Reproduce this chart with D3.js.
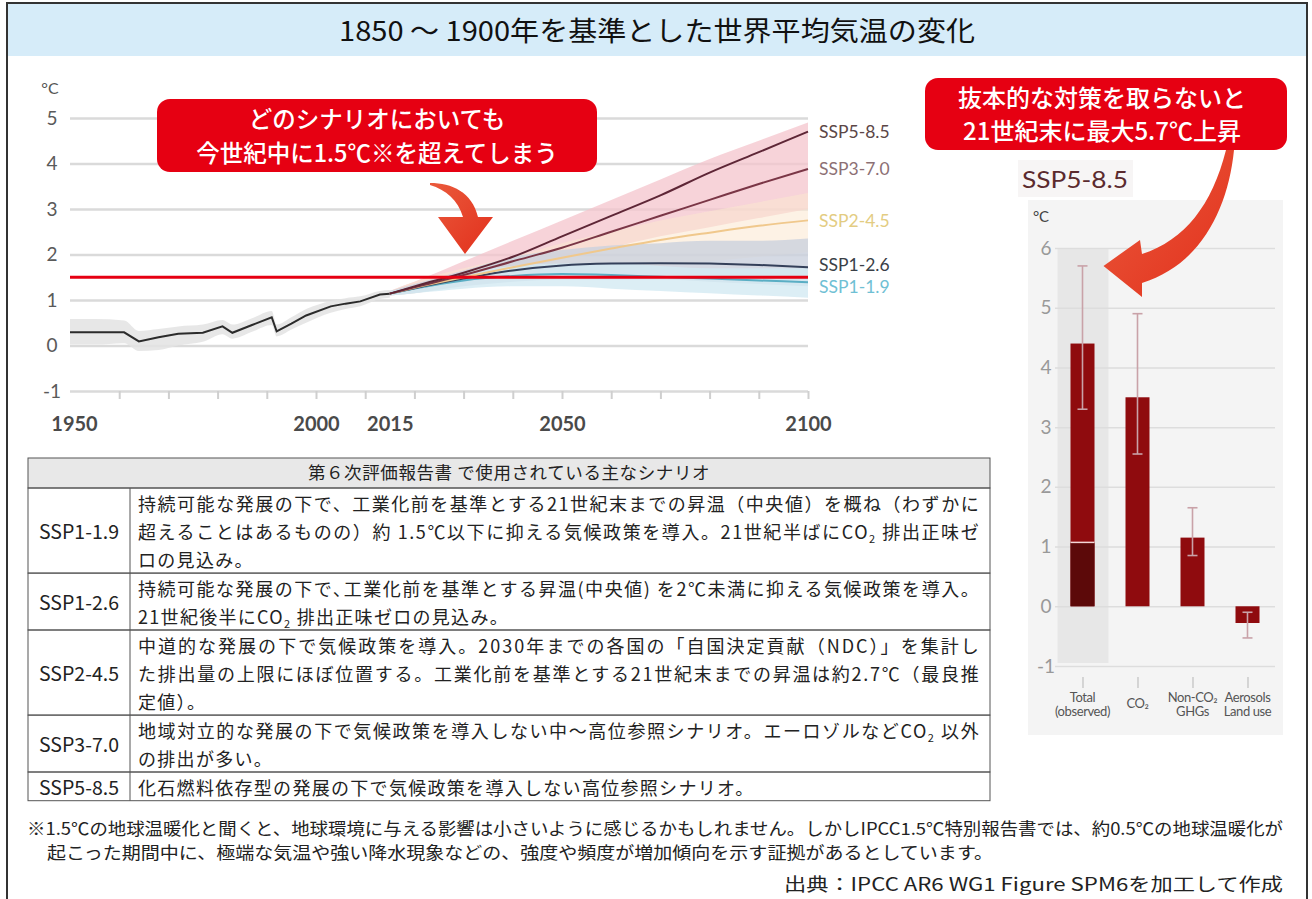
<!DOCTYPE html>
<html>
<head>
<meta charset="utf-8">
<script src="https://cdn.jsdelivr.net/npm/d3@7"></script>
<style>
  body { margin: 0; background: #fff; }
  svg { display: block; }
</style>
</head>
<body>
<svg id="fig" width="1312" height="899"></svg>
<script>
// ---- data: left chart (global mean temperature change vs 1850-1900, °C) ----
const histYears = [1950, 1955, 1961, 1964, 1968, 1972, 1977, 1981, 1983, 1987, 1991, 1992, 1995, 1998, 2003, 2006, 2009, 2013, 2015];
const histTemp  = [0.29, 0.29, 0.29, 0.09, 0.18, 0.26, 0.28, 0.42, 0.28, 0.45, 0.62, 0.31, 0.48, 0.66, 0.86, 0.92, 0.97, 1.12, 1.14];
const histLow   = [0.02, 0.02, 0.05, -0.12, -0.1, 0.0, 0.08, 0.25, 0.15, 0.3, 0.45, 0.2, 0.35, 0.5, 0.72, 0.8, 0.86, 1.02, 1.05];
const histHigh  = [0.58, 0.58, 0.55, 0.32, 0.36, 0.42, 0.46, 0.56, 0.46, 0.6, 0.76, 0.46, 0.62, 0.8, 0.98, 1.04, 1.08, 1.2, 1.22];

const projYears = [2015, 2020, 2030, 2040, 2050, 2060, 2070, 2080, 2090, 2100];
const ssp585 = [1.14, 1.3, 1.6, 1.95, 2.4, 2.85, 3.3, 3.8, 4.25, 4.7];
const ssp370 = [1.14, 1.28, 1.55, 1.85, 2.15, 2.5, 2.85, 3.2, 3.55, 3.88];
const ssp245 = [1.14, 1.27, 1.5, 1.72, 1.93, 2.13, 2.32, 2.48, 2.63, 2.75];
const ssp126 = [1.14, 1.26, 1.47, 1.65, 1.76, 1.8, 1.81, 1.8, 1.77, 1.72];
const ssp119 = [1.14, 1.25, 1.43, 1.53, 1.57, 1.55, 1.51, 1.47, 1.43, 1.39];

const bandHighLo  = [1.1, 1.2, 1.4, 1.65, 1.9, 2.15, 2.4, 2.6, 2.8, 3.0];
const bandHighHi  = [1.2, 1.4, 1.85, 2.3, 2.75, 3.2, 3.65, 4.1, 4.5, 4.9];
const band245Lo   = [1.1, 1.15, 1.3, 1.45, 1.55, 1.65, 1.75, 1.85, 1.95, 2.05];
const band245Hi   = [1.2, 1.4, 1.7, 1.95, 2.25, 2.5, 2.75, 2.95, 3.15, 3.35];
const band126Lo   = [1.1, 1.15, 1.3, 1.4, 1.45, 1.45, 1.45, 1.4, 1.35, 1.3];
const band126Hi   = [1.2, 1.35, 1.65, 1.95, 2.1, 2.2, 2.25, 2.3, 2.3, 2.35];
const band119Lo   = [1.1, 1.15, 1.25, 1.3, 1.3, 1.25, 1.2, 1.15, 1.1, 1.05];
const band119Hi   = [1.2, 1.3, 1.6, 1.75, 1.8, 1.8, 1.75, 1.7, 1.7, 1.7];

const scenarioNames = ["SSP5-8.5", "SSP3-7.0", "SSP2-4.5", "SSP1-2.6", "SSP1-1.9"];
const yTicks = [-1, 0, 1, 2, 3, 4, 5];
const xLabelYears = [1950, 2000, 2015, 2050, 2100];
const limitLine = 1.5;

// ---- data: right chart (SSP5-8.5 contributions by 2100) ----
const barCats   = ["Total (observed)", "CO2", "Non-CO2 GHGs", "Aerosols Land use"];
const barValues = [4.4, 3.5, 1.15, -0.28];
const barLow    = [3.3, 2.55, 0.85, -0.53];
const barHigh   = [5.7, 4.9, 1.65, -0.1];
const observedPart = 1.07;
const barTicks = [-1, 0, 1, 2, 3, 4, 5, 6];

// ---- text ----
const titleText = "1850 ～ 1900年を基準とした世界平均気温の変化";
const callout1 = ["どのシナリオにおいても", "今世紀中に1.5℃※を超えてしまう"];
const callout2 = ["抜本的な対策を取らないと", "21世紀末に最大5.7℃上昇"];
const tableHeader = "第６次評価報告書 で使用されている主なシナリオ";
const tableRows = ["SSP1-1.9", "SSP1-2.6", "SSP2-4.5", "SSP3-7.0", "SSP5-8.5"];
const tableText = [
  ["持続可能な発展の下で、工業化前を基準とする21世紀末までの昇温（中央値）を概ね（わずかに",
   "超えることはあるものの）約 1.5℃以下に抑える気候政策を導入。21世紀半ばにCO_2排出正味ゼ",
   "ロの見込み。"],
  ["持続可能な発展の下で､工業化前を基準とする昇温(中央値) を2℃未満に抑える気候政策を導入。",
   "21世紀後半にCO_2排出正味ゼロの見込み。"],
  ["中道的な発展の下で気候政策を導入。2030年までの各国の「自国決定貢献（NDC）」を集計し",
   "た排出量の上限にほぼ位置する。工業化前を基準とする21世紀末までの昇温は約2.7℃（最良推",
   "定値）。"],
  ["地域対立的な発展の下で気候政策を導入しない中～高位参照シナリオ。エーロゾルなどCO_2以外",
   "の排出が多い。"],
  ["化石燃料依存型の発展の下で気候政策を導入しない高位参照シナリオ。"]
];
const footnote = [
  "※1.5℃の地球温暖化と聞くと、地球環境に与える影響は小さいように感じるかもしれません。しかしIPCC1.5℃特別報告書では、約0.5℃の地球温暖化が",
  "起こった期間中に、極端な気温や強い降水現象などの、強度や頻度が増加傾向を示す証拠があるとしています。"
];
const sourceText = "出典：IPCC AR6 WG1 Figure SPM6を加工して作成";

// ---- styles ----
const JP = "'Noto Sans CJK JP', 'Noto Sans', sans-serif";
const NUM = "Lato, 'Noto Sans', sans-serif";
const RED = "#e60012";
const lineColor  = { "SSP5-8.5": "#5e2636", "SSP3-7.0": "#7a3646", "SSP2-4.5": "#f0c88c", "SSP1-2.6": "#34405a", "SSP1-1.9": "#5aaec4" };
const labelColor = { "SSP5-8.5": "#5b4646", "SSP3-7.0": "#8c7074", "SSP2-4.5": "#e3cc82", "SSP1-2.6": "#3a3f47", "SSP1-1.9": "#6fc0d4" };
const seriesByName = { "SSP5-8.5": ssp585, "SSP3-7.0": ssp370, "SSP2-4.5": ssp245, "SSP1-2.6": ssp126, "SSP1-1.9": ssp119 };

const svg = d3.select("#fig");
const defs = svg.append("defs");
const grad = defs.append("linearGradient").attr("id", "arrowGrad")
  .attr("x1", "0").attr("y1", "0").attr("x2", "1").attr("y2", "1");
grad.append("stop").attr("offset", "0%").attr("stop-color", "#ea5a3c");
grad.append("stop").attr("offset", "100%").attr("stop-color", "#e2301c");

// frame + title
svg.append("rect").attr("x", 8).attr("y", 4).attr("width", 1299).attr("height", 52).attr("fill", "#d6ecf9");
svg.append("path").attr("d", "M7,905 V3 H1307 V905").attr("fill", "none").attr("stroke", "#333").attr("stroke-width", 2);
svg.append("text").attr("x", 339).attr("y", 41).attr("textLength", 636).attr("lengthAdjust", "spacingAndGlyphs")
  .attr("font-family", JP).attr("font-size", 27).attr("fill", "#111").text(titleText);

// ================= left chart =================
const x = d3.scaleLinear().domain([1950, 2100]).range([70, 808]);
const y = d3.scaleLinear().domain([-1, 5]).range([391, 118]);

const gy = svg.append("g").attr("transform", `translate(${x(1950)},0)`)
  .call(d3.axisLeft(y).tickValues(yTicks).tickSize(-(x(2100) - x(1950))).tickFormat(d => d));
gy.select(".domain").remove();
gy.selectAll(".tick line").attr("stroke", "#dadada").attr("stroke-width", 2.5);
gy.selectAll(".tick text").attr("x", -18).attr("text-anchor", "middle")
  .attr("font-family", NUM).attr("font-size", 19).attr("fill", "#5a5a5a");

svg.append("text").attr("x", 50).attr("y", 94).attr("text-anchor", "middle")
  .attr("font-family", NUM).attr("font-size", 16).attr("fill", "#555").text("°C");

// decade tick marks
const gt = svg.append("g").attr("transform", `translate(0,${y(-1)})`)
  .call(d3.axisBottom(x).tickValues(d3.range(1960, 2101, 10)).tickSize(8).tickFormat(""));
gt.select(".domain").remove();
gt.selectAll(".tick line").attr("stroke", "#cfcfcf").attr("stroke-width", 2);

const gx = svg.append("g").attr("transform", `translate(0,${y(-1)})`)
  .call(d3.axisBottom(x).tickValues(xLabelYears).tickSize(0).tickPadding(26).tickFormat(d => d));
gx.select(".domain").remove();
gx.selectAll(".tick text").attr("font-family", NUM).attr("font-size", 20).attr("font-weight", "bold").attr("fill", "#4a4a4a")
  .attr("dx", d => d === 1950 ? 4 : 0);

// historical band + line
const hist = histYears.map((yr, i) => ({ yr, v: histTemp[i], lo: histLow[i], hi: histHigh[i] }));
svg.append("path").datum(hist)
  .attr("d", d3.area().x(d => x(d.yr)).y0(d => y(d.lo)).y1(d => y(d.hi)).curve(d3.curveMonotoneX))
  .attr("fill", "#e3e3e3").attr("opacity", 0.85);

// projection bands
const bandDefs = [
  [bandHighLo, bandHighHi, "#f4c4cc", 0.75],
  [band245Lo, band245Hi, "#fbe8cf", 0.55],
  [band126Lo, band126Hi, "#cad1dd", 0.8],
  [band119Lo, band119Hi, "#d3eaf2", 0.8]
];
bandDefs.forEach(([lo, hi, col, op]) => {
  const rows = projYears.map((yr, i) => ({ yr, lo: lo[i], hi: hi[i] }));
  svg.append("path").datum(rows)
    .attr("d", d3.area().x(d => x(d.yr)).y0(d => y(d.lo)).y1(d => y(d.hi)).curve(d3.curveMonotoneX))
    .attr("fill", col).attr("opacity", op);
});

svg.append("path").datum(hist)
  .attr("d", d3.line().x(d => x(d.yr)).y(d => y(d.v)))
  .attr("fill", "none").attr("stroke", "#2b2b2b").attr("stroke-width", 2);

// projection lines, drawn bottom-up
scenarioNames.slice().reverse().forEach(name => {
  const rows = projYears.map((yr, i) => ({ yr, v: seriesByName[name][i] }));
  svg.append("path").datum(rows)
    .attr("d", d3.line().x(d => x(d.yr)).y(d => y(d.v)).curve(d3.curveMonotoneX))
    .attr("fill", "none").attr("stroke", lineColor[name]).attr("stroke-width", 2);
});

// scenario labels at the right end
const nudge = { "SSP1-2.6": -2, "SSP1-1.9": 5 };
scenarioNames.forEach(name => {
  const s = seriesByName[name];
  svg.append("text").attr("x", x(2100) + 11).attr("y", y(s[s.length - 1]) + (nudge[name] || 0))
    .attr("dy", "0.35em").attr("font-family", NUM).attr("font-size", 17.5)
    .attr("fill", labelColor[name]).text(name);
});

// 1.5°C line
svg.append("line").attr("x1", x(1950)).attr("x2", x(2100)).attr("y1", y(limitLine)).attr("y2", y(limitLine))
  .attr("stroke", RED).attr("stroke-width", 3);

// callout 1
svg.append("rect").attr("x", 157).attr("y", 99).attr("width", 440).attr("height", 73).attr("rx", 13).attr("fill", RED);
callout1.forEach((t, i) => {
  svg.append("text").attr("x", 377).attr("y", 128 + i * 34).attr("text-anchor", "middle")
    .attr("font-family", JP).attr("font-size", 23.5).attr("font-weight", 500).attr("fill", "#fff").text(t);
});
svg.append("path")
  .attr("d", "M430,183 C452,183 472,192 478,217 L493,217 L465,254 L438,217 L463,217 C458,200 446,190 430,185 Z")
  .attr("fill", "url(#arrowGrad)");

// ================= right chart =================
const xb = d3.scalePoint().domain(barCats).range([1055, 1275]).padding(0.5);
const yb = d3.scaleLinear().domain([-1, 6]).range([666, 248]);

svg.append("rect").attr("x", 1018).attr("y", 160).attr("width", 115).attr("height", 37).attr("fill", "#f7f5f5");
svg.append("text").attr("x", 1022).attr("y", 188).attr("textLength", 106).attr("lengthAdjust", "spacingAndGlyphs")
  .attr("font-family", NUM).attr("font-size", 23).attr("fill", "#5b2a2e").text("SSP5-8.5");
svg.append("rect").attr("x", 1028).attr("y", 200).attr("width", 255).attr("height", 535).attr("fill", "#f4f4f4");
svg.append("rect").attr("x", xb(barCats[0]) - 25).attr("y", yb(6)).attr("width", 51).attr("height", yb(-1) - yb(6) - 3)
  .attr("fill", "#e7e7e7");
svg.append("text").attr("x", 1041).attr("y", 222).attr("text-anchor", "middle")
  .attr("font-family", NUM).attr("font-size", 15).attr("fill", "#444").text("°C");

const gby = svg.append("g").attr("transform", "translate(1055,0)")
  .call(d3.axisLeft(yb).tickValues(barTicks).tickSize(-220).tickFormat(d => d));
gby.select(".domain").remove();
gby.selectAll(".tick line").attr("stroke", "#dddddd").attr("stroke-width", 1.5);
gby.selectAll(".tick text").attr("x", -9).attr("text-anchor", "middle")
  .attr("font-family", NUM).attr("font-size", 19).attr("fill", "#999");

const gbx = svg.append("g").attr("transform", "translate(0,677)")
  .call(d3.axisBottom(xb).tickSize(11).tickFormat(""));
gbx.select(".domain").remove();
gbx.selectAll(".tick line").attr("stroke", "#b5b5b5").attr("stroke-width", 1);

// bars
const bw = 24;
barCats.forEach((c, i) => {
  const v = barValues[i];
  svg.append("rect").attr("x", xb(c) - bw / 2).attr("width", bw)
    .attr("y", yb(Math.max(0, v))).attr("height", Math.abs(yb(v) - yb(0)))
    .attr("fill", "#8f0b0e");
});
// observed part of the total
svg.append("rect").attr("x", xb(barCats[0]) - bw / 2).attr("width", bw)
  .attr("y", yb(observedPart)).attr("height", yb(0) - yb(observedPart)).attr("fill", "#5c0909");
svg.append("line").attr("x1", xb(barCats[0]) - bw / 2).attr("x2", xb(barCats[0]) + bw / 2)
  .attr("y1", yb(observedPart)).attr("y2", yb(observedPart)).attr("stroke", "#f3d6d6").attr("stroke-width", 1.5);

// error bars
barCats.forEach((c, i) => {
  const g = svg.append("g").attr("stroke", "#c9a2a8").attr("stroke-width", 1.6);
  g.append("line").attr("x1", xb(c)).attr("x2", xb(c)).attr("y1", yb(barLow[i])).attr("y2", yb(barHigh[i]));
  [barLow[i], barHigh[i]].forEach(v => {
    g.append("line").attr("x1", xb(c) - 5).attr("x2", xb(c) + 5).attr("y1", yb(v)).attr("y2", yb(v));
  });
});

// category labels
const catLines = [["Total", "(observed)"], ["CO₂"], ["Non-CO₂", "GHGs"], ["Aerosols", "Land use"]];
barCats.forEach((c, i) => {
  const ls = catLines[i];
  ls.forEach((t, j) => {
    svg.append("text").attr("x", xb(c)).attr("y", ls.length === 1 ? 708 : 702 + j * 14)
      .attr("text-anchor", "middle").attr("font-family", NUM).attr("font-size", 13)
      .attr("letter-spacing", -0.4).attr("fill", "#555").text(t);
  });
});

// callout 2
svg.append("rect").attr("x", 925).attr("y", 78).attr("width", 362).attr("height", 72).attr("rx", 13).attr("fill", RED);
callout2.forEach((t, i) => {
  svg.append("text").attr("x", 1102).attr("y", 107 + i * 33).attr("text-anchor", "middle")
    .attr("font-family", JP).attr("font-size", 24).attr("font-weight", 500).attr("fill", "#fff").text(t);
});
const tipX = xb(barCats[0]) + 21, tipY = yb(barHigh[0]);
svg.append("path")
  .attr("d", `M1226,150 L1234,150 C1228,210 1200,265 1142,283 L1142,297 L${tipX},${tipY} L1140,240 L1142,254 C1185,240 1212,205 1226,150 Z`)
  .attr("fill", "url(#arrowGrad)");

// ================= table =================
const tX0 = 28, tX1 = 130, tX2 = 990, headTop = 458, headBot = 488, lineH = 28.2;
svg.append("rect").attr("x", tX0).attr("y", headTop).attr("width", tX2 - tX0).attr("height", headBot - headTop)
  .attr("fill", "#e8e8e8").attr("stroke", "#555").attr("stroke-width", 1);
svg.append("text").attr("x", (tX0 + tX2) / 2).attr("y", (headTop + headBot) / 2).attr("dy", "0.36em")
  .attr("text-anchor", "middle").attr("font-family", JP).attr("font-size", 17.5).attr("letter-spacing", 0.6)
  .attr("fill", "#222").text(tableHeader);

function richText(sel, str) {
  const parts = str.split("CO_2");
  parts.forEach((p, k) => {
    if (p) sel.append("tspan").text(p);
    if (k < parts.length - 1) {
      sel.append("tspan").text("CO");
      sel.append("tspan").attr("font-size", 11).attr("dy", 4).text("2");
      sel.append("tspan").attr("dy", -4).text(" ");
    }
  });
}

let rowTop = headBot;
tableRows.forEach((name, i) => {
  const lines = tableText[i];
  const h = lines.length * lineH + 0.5;
  svg.append("rect").attr("x", tX0).attr("y", rowTop).attr("width", tX2 - tX0).attr("height", h)
    .attr("fill", "none").attr("stroke", "#555").attr("stroke-width", 1);
  svg.append("line").attr("x1", tX1).attr("x2", tX1).attr("y1", rowTop).attr("y2", rowTop + h)
    .attr("stroke", "#555").attr("stroke-width", 1);
  svg.append("text").attr("x", (tX0 + tX1) / 2).attr("y", rowTop + h / 2 + 1.5).attr("dy", "0.36em")
    .attr("text-anchor", "middle").attr("font-family", JP).attr("font-size", 19.5).attr("fill", "#222").text(name);
  const firstC = rowTop + h / 2 + 2 - (lines.length - 1) * lineH / 2;
  lines.forEach((ln, j) => {
    const t = svg.append("text").attr("x", 138).attr("y", firstC + j * lineH).attr("dy", "0.36em")
      .attr("font-family", JP).attr("font-size", 18).attr("letter-spacing", 1.3).attr("fill", "#222");
    if (j < lines.length - 1) t.attr("textLength", 842).attr("lengthAdjust", "spacing");
    richText(t, ln);
  });
  rowTop += h;
});

// ================= footnote =================
svg.append("text").attr("x", 27).attr("y", 835).attr("textLength", 1256).attr("lengthAdjust", "spacingAndGlyphs")
  .attr("font-family", JP).attr("font-size", 17).attr("fill", "#222").text(footnote[0]);
svg.append("text").attr("x", 47).attr("y", 859).attr("textLength", 946).attr("lengthAdjust", "spacingAndGlyphs")
  .attr("font-family", JP).attr("font-size", 17).attr("fill", "#222").text(footnote[1]);
svg.append("text").attr("x", 784).attr("y", 891).attr("textLength", 499).attr("lengthAdjust", "spacingAndGlyphs")
  .attr("font-family", JP).attr("font-size", 18).attr("fill", "#222").text(sourceText);
</script>
</body>
</html>
